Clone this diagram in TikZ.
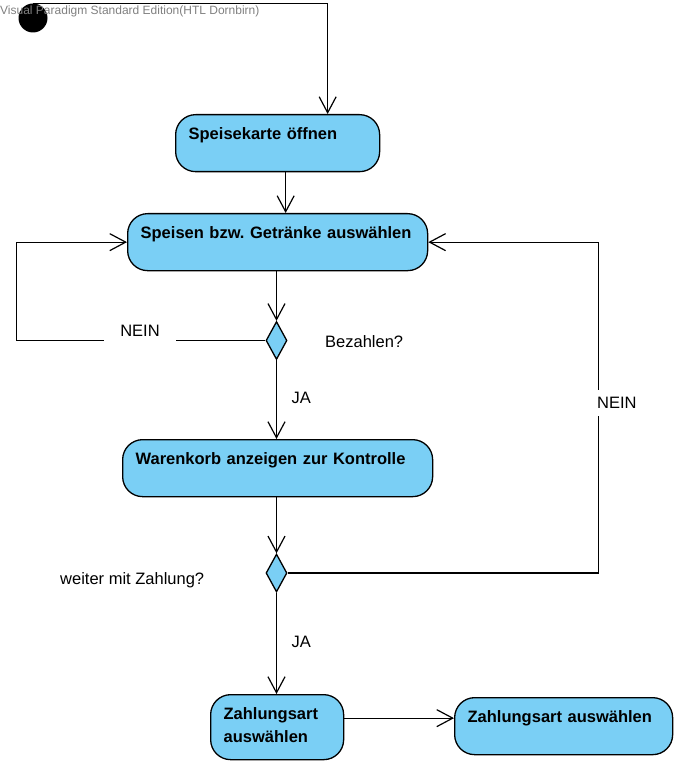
\documentclass[tikz,border=0pt]{standalone}
\usepackage{fontspec}
\setmainfont{Liberation Sans}
\usetikzlibrary{arrows.meta, shapes.geometric}
\definecolor{vpblue}{RGB}{122,207,245}
\frenchspacing

\begin{document}
\begin{tikzpicture}[x=1pt, y=-1pt, font=\fontsize{16.5}{23}\selectfont,
  act/.style={draw, line width=1.3pt, fill=vpblue, rounded corners=20pt, anchor=north west,
    font=\fontsize{16.5}{23}\selectfont\bfseries, align=left, inner xsep=13pt, inner ysep=13pt,
    text height=12pt, text depth=19pt},
  decision/.style={draw, line width=1.3pt, fill=vpblue, diamond, inner sep=0pt,
    minimum width=21pt, minimum height=38pt},
  flow/.style={line width=1.2pt, -{Straight Barb[length=16pt, width=17pt]}},
  guard/.style={fill=white, inner ysep=0pt, minimum height=26pt}]
  \useasboundingbox (0,0) rectangle (678,767);

  % Start
  \node[circle, fill=black, minimum size=29pt, inner sep=0pt] (start) at (33,18) {};

  % Activities
  \node[act, text width=178pt] (karte) at (175,114) {Speisekarte öffnen};
  \node[act, text width=274pt] (auswahl) at (127,213) {Speisen bzw. Getränke auswählen};
  \node[act, text width=284pt] (waren) at (122,439) {Warenkorb anzeigen zur Kontrolle};
  \node[act, text width=107pt, text depth=27pt] (zahl) at (210,694) {Zahlungsart\\auswählen};
  \node[act, text width=192pt] (wahl) at (454,697) {Zahlungsart auswählen};

  % Decisions
  \node[decision] (dia1) at (276.5,340.5) {};
  \node[decision] (dia2) at (276.5,573) {};

  % Edges
  \coordinate (k) at ([xshift=8pt]karte.south);
  \coordinate (z) at ([yshift=9pt]zahl.east);
  \draw[flow] (start.north) -| ([xshift=50pt]karte.north);
  \draw[flow] (k) -- (k |- auswahl.north);
  \draw[flow] (auswahl.south -| dia1.north) -- (dia1.north);
  \draw[flow] (dia1.west) -- ++(-249,0) |- (auswahl.west);
  \draw[flow] (dia1.south) -- (dia1.south |- waren.north);
  \draw[flow] (waren.south -| dia2.north) -- (dia2.north);
  \draw[flow] (dia2.east) -- ++(311,0) |- (auswahl.east);
  \draw[flow] (dia2.south) -- (dia2.south |- zahl.north);
  \draw[flow] (z) -- (z -| wahl.west);

  % Guards and notes
  \node[fill=white, inner xsep=16pt, inner ysep=0pt, text depth=5pt, anchor=base] (nein1) at (140,336) {NEIN};
  \node[guard, anchor=west, inner xsep=15pt] (ja1) at (276.5,398) {JA};
  \node[guard, anchor=west, inner xsep=15pt] (ja2) at (276.5,642) {JA};
  \node[guard, anchor=west, inner xsep=1pt] (nein2) at (596,403) {NEIN};
  \node[anchor=base west, inner sep=0pt] (bez) at (325,347) {Bezahlen?};
  \node[anchor=base west, inner sep=0pt] (weiter) at (60,584) {weiter mit Zahlung?};

  % Watermark
  \node[anchor=base west, inner sep=0pt, text=gray, font=\fontsize{12}{14}\selectfont] (wm) at (0,14.5)
    {Visual Paradigm Standard Edition(HTL Dornbirn)};
\end{tikzpicture}
\end{document}
